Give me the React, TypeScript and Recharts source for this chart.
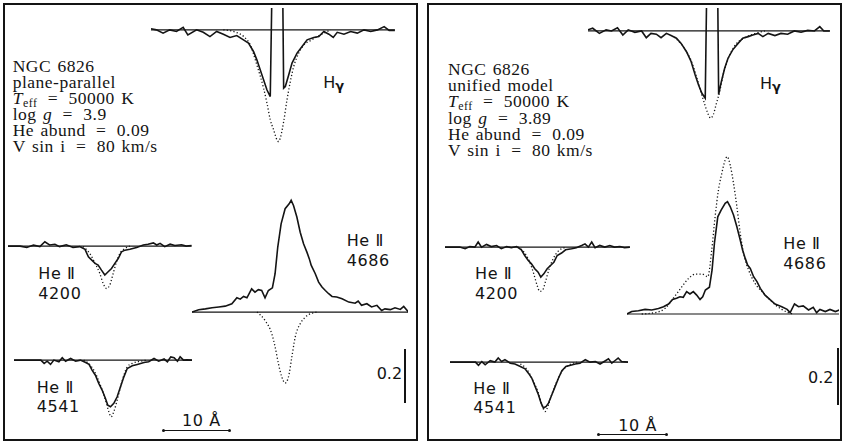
import { Line, LineChart, ReferenceLine, XAxis, YAxis } from 'recharts'

type Pt = [number, number]

// one data unit of wavelength / flux in pixels (taken from the 10 Å and 0.2 bars)
const PX_PER_ANGSTROM = 6.7
const PX_PER_FLUX = 270

// ---- left panel: plane-parallel model ----
const hgPpObs: Pt[] = [
  [-18.8, 1.004], [-18.0, 1.0], [-17.0, 0.988], [-16.0, 1.0], [-15.0, 0.994], [-14.0, 1.009],
  [-13.3, 0.981], [-12.0, 1.0], [-11.0, 0.991], [-10.0, 0.975], [-9.0, 0.994], [-8.0, 0.984],
  [-7.0, 0.972], [-6.0, 0.979], [-5.0, 0.963], [-4.25, 0.951], [-3.5, 0.92], [-3.0, 0.889],
  [-2.5, 0.852], [-2.0, 0.815], [-1.5, 0.778], [-1.0, 0.753], [-0.65, 1.3], [0.8, 1.3],
  [1.0, 0.784], [1.25, 0.79], [1.75, 0.833], [2.25, 0.877], [3.0, 0.914], [3.75, 0.938],
  [4.5, 0.963], [5.5, 0.972], [6.25, 0.975], [7.0, 0.994], [7.75, 0.984], [8.4, 0.972],
  [9.0, 0.991], [10.0, 0.984], [11.0, 0.994], [12.0, 0.988], [13.0, 1.0], [14.0, 0.994],
  [15.0, 1.0], [16.0, 1.012], [16.75, 0.998], [17.6, 0.998],
]
const hgPpModel: Pt[] = [
  [-8.0, 1.0], [-7.0, 0.997], [-6.0, 0.99], [-5.0, 0.976], [-4.0, 0.945], [-3.0, 0.87],
  [-2.0, 0.784], [-1.5, 0.73], [-1.0, 0.667], [-0.5, 0.63], [0.0, 0.593], [0.25, 0.586],
  [0.5, 0.6], [1.0, 0.66], [1.5, 0.741], [2.0, 0.809], [2.5, 0.864], [3.25, 0.914],
  [4.0, 0.944], [5.0, 0.96], [6.0, 0.975], [7.0, 0.988], [8.0, 1.0],
]
const he4200PpObs: Pt[] = [
  [-14.7, 1.0], [-12.9, 1.0], [-11.9, 0.995], [-10.9, 1.004], [-9.95, 0.998], [-9.2, 1.016],
  [-8.5, 1.004], [-7.7, 1.007], [-7.0, 0.998], [-6.0, 1.005], [-5.0, 0.995], [-4.0, 0.998],
  [-3.2, 0.988], [-2.7, 0.96], [-2.2, 0.948], [-1.7, 0.936], [-1.25, 0.93], [-0.75, 0.911],
  [-0.25, 0.893], [0.25, 0.905], [0.75, 0.917], [1.25, 0.936], [1.75, 0.954], [2.25, 0.979],
  [2.75, 0.985], [3.5, 0.988], [4.5, 0.995], [5.5, 1.004], [6.2, 1.007], [7.0, 1.012],
  [7.5, 1.004], [8.0, 1.01], [8.7, 0.998], [9.5, 1.007], [10.2, 1.002], [11.2, 1.005],
  [11.9, 1.0], [12.7, 1.002],
]
const he4200PpModel: Pt[] = [
  [-3.5, 0.998], [-2.5, 0.973], [-1.7, 0.936], [-1.0, 0.899], [-0.5, 0.862], [0.0, 0.843],
  [0.5, 0.856], [1.0, 0.899], [1.5, 0.942], [2.0, 0.973], [2.75, 0.991], [3.5, 1.0],
]
const he4541PpObs: Pt[] = [
  [-14.5, 1.0], [-10.5, 1.0], [-10.0, 0.988], [-9.55, 0.996], [-9.05, 0.984], [-8.55, 1.0],
  [-7.8, 0.994], [-7.3, 1.009], [-6.8, 0.996], [-6.05, 1.006], [-5.3, 0.996], [-4.6, 1.0],
  [-3.8, 0.991], [-3.3, 0.984], [-2.85, 0.963], [-2.35, 0.944], [-1.85, 0.914], [-1.35, 0.889],
  [-0.85, 0.858], [-0.5, 0.833], [-0.1, 0.827], [0.4, 0.84], [0.9, 0.864], [1.4, 0.901],
  [1.9, 0.938], [2.4, 0.969], [3.15, 0.979], [3.9, 0.984], [4.9, 0.991], [5.6, 0.994],
  [6.4, 1.006], [7.1, 0.996], [7.9, 1.004], [8.4, 0.994], [8.9, 1.012], [9.4, 1.009],
  [9.9, 0.996], [10.3, 1.012], [10.8, 1.0], [11.3, 1.001], [12.1, 1.0],
]
const he4541PpModel: Pt[] = [
  [-4.1, 1.0], [-2.6, 0.963], [-1.6, 0.907], [-0.85, 0.852], [-0.35, 0.809], [0.0, 0.79],
  [0.4, 0.809], [0.9, 0.852], [1.4, 0.901], [1.9, 0.944], [2.4, 0.975], [3.15, 0.988],
  [4.4, 0.996], [5.4, 1.0],
]
const he4686PpObs: Pt[] = [
  [-14.4, 1.0], [-13.4, 1.009], [-12.4, 1.012], [-11.4, 1.016], [-10.4, 1.019], [-9.45, 1.022],
  [-8.45, 1.031], [-7.7, 1.053], [-7.2, 1.048], [-6.7, 1.058], [-6.2, 1.053], [-5.5, 1.086],
  [-5.0, 1.074], [-4.5, 1.083], [-4.0, 1.08], [-3.5, 1.053], [-3.0, 1.08], [-2.4, 1.09],
  [-2.0, 1.142], [-1.6, 1.241], [-1.1, 1.327], [-0.5, 1.383], [0.1, 1.401], [0.4, 1.414],
  [0.75, 1.395], [1.25, 1.352], [1.75, 1.296], [2.25, 1.253], [2.75, 1.222], [3.1, 1.198],
  [3.4, 1.173], [4.0, 1.142], [4.5, 1.111], [5.0, 1.093], [5.5, 1.08], [6.0, 1.068],
  [6.5, 1.058], [7.2, 1.056], [8.0, 1.049], [9.0, 1.037], [9.95, 1.033], [10.4, 1.041],
  [10.9, 1.025], [11.7, 1.031], [12.4, 1.019], [13.2, 1.025], [13.9, 1.006], [14.4, 1.012],
  [15.2, 1.009], [15.9, 1.016], [16.7, 1.01], [17.2, 1.021], [17.9, 1.0],
]
const he4686PpModel: Pt[] = [
  [-4.7, 1.0], [-3.5, 0.969], [-2.5, 0.92], [-2.0, 0.872], [-1.5, 0.809], [-1.0, 0.76],
  [-0.5, 0.737], [0.0, 0.76], [0.5, 0.833], [1.0, 0.907], [1.75, 0.957], [2.5, 0.981],
  [3.5, 0.996], [4.25, 1.0],
]

// ---- right panel: unified model ----
const hgUnObs: Pt[] = [
  [-18.3, 1.004], [-17.6, 1.01], [-16.6, 0.991], [-15.6, 1.004], [-14.8, 1.0], [-13.9, 1.012],
  [-13.1, 0.985], [-12.3, 1.004], [-11.3, 0.995], [-10.3, 1.0], [-9.6, 0.975], [-8.9, 0.991],
  [-8.1, 0.988], [-7.4, 0.975], [-6.6, 0.991], [-5.9, 0.983], [-5.1, 0.973], [-4.4, 0.954],
  [-3.6, 0.923], [-2.9, 0.886], [-2.3, 0.837], [-1.8, 0.8], [-1.3, 0.769], [-0.8, 0.751],
  [-0.5, 1.3], [1.0, 1.3], [1.2, 0.765], [1.6, 0.812], [2.1, 0.862], [2.6, 0.899],
  [3.3, 0.93], [4.1, 0.954], [4.8, 0.973], [5.6, 0.979], [6.3, 0.985], [7.1, 0.991],
  [7.8, 0.979], [8.6, 0.991], [9.6, 0.983], [10.5, 0.991], [11.5, 0.988], [12.5, 1.0],
  [13.5, 0.995], [14.5, 1.002], [15.5, 1.0], [16.3, 1.016], [16.9, 1.0], [17.8, 1.0],
]
const hgUnModel: Pt[] = [
  [-5.4, 0.978], [-3.9, 0.935], [-2.9, 0.89], [-2.1, 0.83], [-1.4, 0.77], [-0.9, 0.73],
  [-0.4, 0.694], [0.0, 0.677], [0.4, 0.69], [0.85, 0.73], [1.35, 0.775], [1.85, 0.835],
  [2.6, 0.895], [3.6, 0.945], [5.1, 0.975], [6.6, 0.99], [8.1, 1.0],
]
const he4200UnObs: Pt[] = [
  [-14.4, 1.0], [-12.2, 1.0], [-11.4, 0.994], [-10.7, 1.002], [-9.95, 1.0], [-9.45, 1.019],
  [-8.95, 1.0], [-8.2, 1.01], [-7.5, 1.002], [-6.7, 1.006], [-6.0, 0.994], [-5.2, 1.002],
  [-4.5, 0.998], [-3.7, 1.002], [-3.0, 0.99], [-2.5, 0.969], [-2.0, 0.951], [-1.5, 0.938],
  [-1.0, 0.92], [-0.5, 0.907], [-0.1, 0.889], [0.35, 0.901], [0.85, 0.92], [1.35, 0.932],
  [1.85, 0.944], [2.35, 0.969], [3.0, 0.978], [3.6, 0.99], [4.5, 0.994], [5.2, 0.998],
  [6.0, 1.006], [6.5, 1.012], [7.0, 1.0], [7.5, 1.019], [8.0, 0.998], [8.7, 1.006],
  [9.45, 1.0], [10.2, 1.006], [10.9, 1.0], [11.7, 1.002], [12.4, 0.998], [13.2, 1.0],
]
const he4200UnModel: Pt[] = [
  [-3.5, 1.0], [-2.5, 0.978], [-1.75, 0.944], [-1.15, 0.901], [-0.65, 0.858], [-0.25, 0.836],
  [0.15, 0.84], [0.65, 0.877], [1.15, 0.92], [1.75, 0.957], [2.5, 0.985], [3.5, 0.998],
]
const he4541UnObs: Pt[] = [
  [-14.2, 1.0], [-10.4, 1.0], [-9.95, 0.988], [-9.45, 1.002], [-8.95, 0.99], [-8.2, 1.005],
  [-7.5, 1.0], [-7.0, 1.015], [-6.5, 1.002], [-6.0, 1.009], [-5.2, 0.996], [-4.5, 0.993],
  [-3.7, 0.984], [-3.0, 0.975], [-2.5, 0.959], [-2.0, 0.941], [-1.5, 0.91], [-1.0, 0.879],
  [-0.6, 0.848], [-0.25, 0.83], [0.15, 0.836], [0.5, 0.848], [1.0, 0.879], [1.5, 0.91],
  [2.0, 0.941], [2.5, 0.968], [3.1, 0.984], [3.8, 0.988], [4.5, 0.993], [5.2, 0.996],
  [6.0, 1.009], [6.7, 1.0], [7.5, 1.002], [8.2, 0.993], [9.0, 1.005], [9.45, 1.012],
  [9.95, 0.996], [10.4, 1.005], [10.9, 1.015], [11.4, 1.002], [12.4, 1.0],
]
const he4541UnModel: Pt[] = [
  [-3.7, 0.993], [-2.7, 0.972], [-1.75, 0.928], [-1.0, 0.885], [-0.5, 0.842], [0.0, 0.817],
  [0.5, 0.842], [1.0, 0.881], [1.75, 0.928], [2.5, 0.965], [3.5, 0.988], [4.7, 1.0],
]
const he4686UnObs: Pt[] = [
  [-14.9, 1.0], [-14.2, 1.009], [-13.2, 1.012], [-12.2, 1.017], [-11.2, 1.015], [-10.2, 1.02],
  [-9.45, 1.027], [-8.7, 1.037], [-8.1, 1.054], [-7.5, 1.058], [-7.0, 1.064], [-6.5, 1.062],
  [-6.0, 1.083], [-5.5, 1.074], [-5.0, 1.083], [-4.5, 1.07], [-4.0, 1.054], [-3.6, 1.064],
  [-3.2, 1.089], [-2.6, 1.099], [-2.2, 1.163], [-1.85, 1.262], [-1.35, 1.36], [-0.85, 1.385],
  [-0.25, 1.41], [0.1, 1.416], [0.5, 1.398], [1.0, 1.367], [1.5, 1.323], [2.0, 1.274],
  [2.35, 1.237], [2.75, 1.206], [3.1, 1.181], [3.5, 1.169], [4.0, 1.138], [4.5, 1.12],
  [5.0, 1.095], [5.7, 1.07], [6.5, 1.052], [7.2, 1.037], [8.2, 1.027], [9.0, 1.017],
  [9.45, 1.005], [10.1, 1.037], [10.7, 1.027], [11.4, 1.03], [12.2, 1.015], [12.9, 1.025],
  [13.4, 1.005], [13.9, 1.017], [14.7, 1.009], [15.4, 1.017], [16.2, 1.009], [16.8, 1.015],
]
const he4686UnModel: Pt[] = [
  [-12.7, 1.0], [-10.7, 1.005], [-9.2, 1.021], [-8.0, 1.058], [-6.7, 1.101], [-5.7, 1.132],
  [-4.7, 1.148], [-3.7, 1.148], [-2.85, 1.138], [-2.25, 1.237], [-1.75, 1.36], [-1.25, 1.459],
  [-0.75, 1.521], [-0.25, 1.57], [0.05, 1.583], [0.5, 1.552], [1.0, 1.484], [1.5, 1.398],
  [2.0, 1.299], [2.5, 1.225], [3.25, 1.163], [4.2, 1.114], [5.5, 1.077], [6.7, 1.046],
  [8.2, 1.017], [9.2, 1.005], [9.95, 1.0],
]

const ppText = ['NGC 6826', 'plane-parallel', 'teff', 'log g = 3.9', 'He abund = 0.09', 'V sin i = 80 km/s']
const unText = ['NGC 6826', 'unified model', 'teff', 'log g = 3.89', 'He abund = 0.09', 'V sin i = 80 km/s']

const INK = '#141414'
const SANS = '"DejaVu Sans", "Liberation Sans", sans-serif'
const SERIF = '"Liberation Serif", "DejaVu Serif", serif'

const toRows = (pts: Pt[]) => pts.map(([x, f]) => ({ x, f }))

// TeX puts more room around "=" than a text space: pad it with thin spaces
const eq = (s: string) => s.replace(' = ', '\u2009 = \u2009')

type ProfileProps = {
  cx: number
  cy: number
  xDomain: [number, number]
  yDomain: [number, number]
  obs: Pt[]
  model: Pt[]
}

function Profile({ cx, cy, xDomain, yDomain, obs, model }: ProfileProps) {
  const [x0, x1] = xDomain
  const [y0, y1] = yDomain
  const left = cx + x0 * PX_PER_ANGSTROM
  const top = cy - (y1 - 1) * PX_PER_FLUX
  const width = (x1 - x0) * PX_PER_ANGSTROM
  const height = (y1 - y0) * PX_PER_FLUX
  return (
    <div style={{ position: 'absolute', left, top }}>
      <LineChart width={width} height={height} margin={{ top: 0, right: 0, bottom: 0, left: 0 }}>
        <XAxis type="number" dataKey="x" domain={xDomain} hide />
        <YAxis type="number" dataKey="f" domain={yDomain} hide allowDataOverflow />
        <ReferenceLine y={1} stroke={INK} strokeWidth={1.2} />
        <Line
          data={toRows(model)}
          dataKey="f"
          type="monotone"
          stroke={INK}
          strokeWidth={1.3}
          strokeDasharray="1.2 2.2"
          dot={false}
          isAnimationActive={false}
        />
        <Line
          data={toRows(obs)}
          dataKey="f"
          type="linear"
          stroke={INK}
          strokeWidth={1.6}
          dot={false}
          isAnimationActive={false}
        />
      </LineChart>
    </div>
  )
}

function LineLabel({ x, capTop, lines, gap = 20 }: { x: number; capTop: number; lines: string[]; gap?: number }) {
  return (
    <>
      {lines.map((t, i) => (
        <div
          key={i}
          style={{
            position: 'absolute',
            left: x,
            top: capTop - 3.9 + i * gap,
            font: `16px/20px ${SANS}`,
            color: INK,
            letterSpacing: 0.6,
            whiteSpace: 'nowrap',
          }}
        >
          {t}
        </div>
      ))}
    </>
  )
}

function HGamma({ x, capTop }: { x: number; capTop: number }) {
  return (
    <div style={{ position: 'absolute', left: x, top: capTop - 3.9, font: `16px/20px ${SANS}`, color: INK }}>
      H<span style={{ fontSize: 13, position: 'relative', top: 2, fontWeight: 'bold' }}>γ</span>
    </div>
  )
}

function Params({ x, capTop, lines, size, gap }: { x: number; capTop: number; lines: string[]; size: number; gap: number }) {
  return (
    <>
      {lines.map((t, i) => (
        <div
          key={i}
          style={{
            position: 'absolute',
            left: x,
            top: capTop - 0.13 * size + i * gap,
            font: `${size}px/${gap}px ${SERIF}`,
            color: INK,
            whiteSpace: 'pre',
            wordSpacing: 1.5,
            letterSpacing: 0.5,
          }}
        >
          {t === 'teff' ? (
            <>
              <i>T</i>
              <span style={{ fontSize: size * 0.68, position: 'relative', top: 3 }}>eff</span>
              {eq(' = 50000 K')}
            </>
          ) : t.startsWith('log g') ? (
            <>
              {'log '}
              <i>g</i>
              {eq(t.slice(5))}
            </>
          ) : (
            eq(t)
          )}
        </div>
      ))}
    </>
  )
}

function ScaleBars({ hx0, hx1, hy, textX, textCap, vx, vy0, vy1, numX, numCap }: {
  hx0: number; hx1: number; hy: number; textX: number; textCap: number
  vx: number; vy0: number; vy1: number; numX: number; numCap: number
}) {
  return (
    <>
      <div style={{ position: 'absolute', left: hx0, top: hy - 0.6, width: hx1 - hx0, height: 1.3, background: INK }} />
      <div style={{ position: 'absolute', left: hx0 - 1, top: hy - 1.5, width: 3, height: 3, borderRadius: 2, background: INK }} />
      <div style={{ position: 'absolute', left: hx1 - 2, top: hy - 1.5, width: 3, height: 3, borderRadius: 2, background: INK }} />
      <div style={{ position: 'absolute', left: textX, top: textCap - 3.9, font: `16px/20px ${SANS}`, color: INK, letterSpacing: 0.6 }}>
        10 Å
      </div>
      <div style={{ position: 'absolute', left: vx - 0.7, top: vy0, width: 1.4, height: vy1 - vy0, background: INK }} />
      <div style={{ position: 'absolute', left: numX, top: numCap - 3.9, font: `16px/20px ${SANS}`, color: INK }}>
        0.2
      </div>
    </>
  )
}

export default function App() {
  return (
    <div style={{ position: 'absolute', left: 0, top: 0, width: 844, height: 444, background: '#fff', overflow: 'hidden' }}>
      <div style={{ position: 'absolute', left: 3, top: 3, width: 411, height: 434, border: `2px solid ${INK}` }} />
      <div style={{ position: 'absolute', left: 427, top: 3, width: 411, height: 434, border: `2px solid ${INK}` }} />

      {/* left panel */}
      <Params x={12.7} capTop={60.7} lines={ppText} size={17.5} gap={16} />
      <Profile cx={276.7} cy={30} xDomain={[-18.8, 17.6]} yDomain={[0.55, 1.081]} obs={hgPpObs} model={hgPpModel} />
      <HGamma x={323.3} capTop={76.7} />
      <Profile cx={106.7} cy={246} xDomain={[-14.7, 12.7]} yDomain={[0.82, 1.03]} obs={he4200PpObs} model={he4200PpModel} />
      <LineLabel x={38.3} capTop={268.3} lines={['He Ⅱ', '4200']} />
      <Profile cx={110.7} cy={360} xDomain={[-14.5, 12.1]} yDomain={[0.77, 1.03]} obs={he4541PpObs} model={he4541PpModel} />
      <LineLabel x={36.7} capTop={381.7} lines={['He Ⅱ', '4541']} gap={19} />
      <Profile cx={288.3} cy={311.7} xDomain={[-14.4, 17.9]} yDomain={[0.72, 1.43]} obs={he4686PpObs} model={he4686PpModel} />
      <LineLabel x={346.7} capTop={235} lines={['He Ⅱ', '4686']} />
      <ScaleBars hx0={163} hx1={230} hy={430.7} textX={182} textCap={415} vx={405} vy0={349} vy1={403} numX={376.7} numCap={368.3} />

      {/* right panel */}
      <Params x={448} capTop={63} lines={unText} size={17.5} gap={16.3} />
      <Profile cx={711} cy={31} xDomain={[-18.3, 17.8]} yDomain={[0.6, 1.085]} obs={hgUnObs} model={hgUnModel} />
      <HGamma x={760} capTop={78.3} />
      <Profile cx={541.7} cy={246.7} xDomain={[-14.4, 13.2]} yDomain={[0.82, 1.03]} obs={he4200UnObs} model={he4200UnModel} />
      <LineLabel x={475} capTop={268.3} lines={['He Ⅱ', '4200']} />
      <Profile cx={545} cy={362.3} xDomain={[-14.2, 12.4]} yDomain={[0.79, 1.03]} obs={he4541UnObs} model={he4541UnModel} />
      <LineLabel x={473.3} capTop={383.3} lines={['He Ⅱ', '4541']} gap={19} />
      <Profile cx={726.7} cy={314} xDomain={[-14.9, 16.8]} yDomain={[0.95, 1.6]} obs={he4686UnObs} model={he4686UnModel} />
      <LineLabel x={783.3} capTop={238.3} lines={['He Ⅱ', '4686']} />
      <ScaleBars hx0={598} hx1={667} hy={434.3} textX={618.3} textCap={420} vx={838} vy0={348} vy1={405} numX={808} numCap={372} />
    </div>
  )
}
